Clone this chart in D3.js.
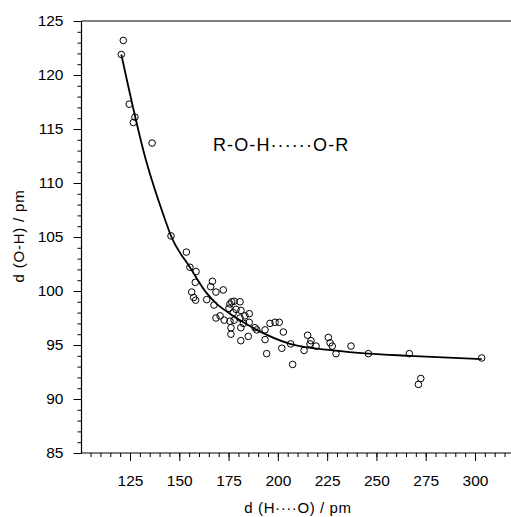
<!DOCTYPE html>
<html>
<head>
<meta charset="utf-8">
<script src="https://cdn.jsdelivr.net/npm/d3@7"></script>
<style>
  html, body { margin: 0; padding: 0; background: #fff; }
  svg { display: block; }
  text { font-family: Arial, "Liberation Sans", sans-serif; fill: #000; }
</style>
</head>
<body>
<svg id="chart" width="511" height="517"></svg>
<script>
// ---- data ----
const pointsHO = [121.6,120.6,124.6,127.5,126.7,136.2,145.8,153.6,155.4,158.5,158.1,156.3,157.3,158.3,163.9,165.9,166.8,168.6,172.3,167.6,175.7,176.6,177.8,180.8,175.2,178.8,181.3,185.5,177.4,168.6,170.7,172.8,175.7,177.8,180.8,183.3,185.5,182.5,176.2,181.2,176.2,185.0,181.2,188.4,189.3,193.5,193.5,196.0,198.6,200.7,202.8,194.3,202.0,206.5,207.5,213.3,215.1,216.8,216.3,219.4,225.6,226.5,227.6,229.5,237.1,245.9,266.7,303.4,272.5,271.3];
const pointsOH = [123.2,121.9,117.3,116.1,115.6,113.7,105.1,103.6,102.2,101.8,100.8,99.9,99.4,99.15,99.2,100.4,100.9,99.9,100.1,98.7,98.8,99.0,99.05,99.0,98.4,98.3,98.2,97.9,98.0,97.5,97.7,97.3,97.2,97.3,97.5,97.7,97.1,97.0,96.6,96.6,96.0,95.8,95.4,96.6,96.4,96.4,95.5,97.0,97.1,97.1,96.2,94.2,94.7,95.1,93.2,94.5,95.9,95.4,95.1,94.9,95.7,95.2,94.9,94.2,94.9,94.2,94.2,93.8,91.9,91.35];
// fitted curve, read as points along the drawn line
const curveHO = [120.6,133.1,142.8,145.8,155.4,163.9,169.0,175.7,182.5,189.3,206.2,228.1,245.9,266.7,303.4];
const curveOH = [121.9,112.1,106.6,105.1,102.2,99.8,98.8,97.9,97.1,96.4,95.1,94.5,94.2,94.0,93.7];
const xMajorTicks = [125,150,175,200,225,250,275,300];
const xMinorTicks = d3.range(105,320,5);
const yMajorTicks = [85,90,95,100,105,110,115,120,125];
const yMinorTicks = d3.range(85,126,1);
const yTitle = "d (O-H) / pm";
const xTitle = "d (H\u00B7\u00B7\u00B7\u00B7O) / pm";
const annotation = "R-O-H\u00B7\u00B7\u00B7\u00B7\u00B7\u00B7O-R";

// ---- layout ----
const svg = d3.select("#chart");
const x = d3.scaleLinear().domain([125, 300]).range([130, 475]);
const y = d3.scaleLinear().domain([85, 125]).range([453, 21]);
const xLeft = 81.5, xRight = 511;

// axes: minor ticks
svg.append("g").attr("transform", `translate(0,${y(85)})`)
  .call(d3.axisBottom(x).tickValues(xMinorTicks).tickSize(4).tickFormat(""))
  .call(g => g.select(".domain").remove());
svg.append("g").attr("transform", `translate(${xLeft},0)`)
  .call(d3.axisLeft(y).tickValues(yMinorTicks).tickSize(4).tickFormat(""))
  .call(g => g.select(".domain").remove());
// major ticks
svg.append("g").attr("transform", `translate(0,${y(85)})`)
  .call(d3.axisBottom(x).tickValues(xMajorTicks).tickSize(8).tickPadding(14))
  .call(g => g.select(".domain").remove())
  .call(g => g.selectAll("text").style("font-size", "15.5px").attr("dy", "0.71em"));
svg.append("g").attr("transform", `translate(${xLeft},0)`)
  .call(d3.axisLeft(y).tickValues(yMajorTicks).tickSize(8).tickPadding(10))
  .call(g => g.select(".domain").remove())
  .call(g => g.selectAll("text").style("font-size", "15.5px"));
svg.selectAll(".tick line").attr("stroke", "#000").attr("stroke-width", 1);

// frame lines
svg.append("line").attr("x1", xLeft).attr("x2", xLeft).attr("y1", y(125)).attr("y2", y(85))
  .attr("stroke", "#000").attr("stroke-width", 1.2);
svg.append("line").attr("x1", xLeft).attr("x2", xRight).attr("y1", y(85)).attr("y2", y(85))
  .attr("stroke", "#000").attr("stroke-width", 1.2);
svg.append("line").attr("x1", xLeft).attr("x2", xRight).attr("y1", y(125)).attr("y2", y(125))
  .attr("stroke", "#000").attr("stroke-width", 1.2);

// points
svg.append("g").selectAll("circle")
  .data(pointsHO.map((v, i) => [v, pointsOH[i]]))
  .join("circle")
  .attr("cx", d => x(d[0])).attr("cy", d => y(d[1])).attr("r", 3.3)
  .attr("fill", "none").attr("stroke", "#000").attr("stroke-width", 1);

// fitted curve
const line = d3.line().x(d => x(d[0])).y(d => y(d[1])).curve(d3.curveMonotoneX);
svg.append("path").datum(curveHO.map((v, i) => [v, curveOH[i]]))
  .attr("d", line).attr("fill", "none").attr("stroke", "#000").attr("stroke-width", 1.8);

// titles
svg.append("text").attr("x", 298).attr("y", 513).attr("text-anchor", "middle")
  .style("font-size", "15px").style("letter-spacing", "0.6px").text(xTitle);
svg.append("text").attr("transform", "translate(24,236) rotate(-90)").attr("text-anchor", "middle")
  .style("font-size", "15px").style("letter-spacing", "0.8px").text(yTitle);
svg.append("text").attr("x", 213).attr("y", 151).style("font-size", "18px")
  .style("letter-spacing", "1.1px").text(annotation);
</script>
</body>
</html>
